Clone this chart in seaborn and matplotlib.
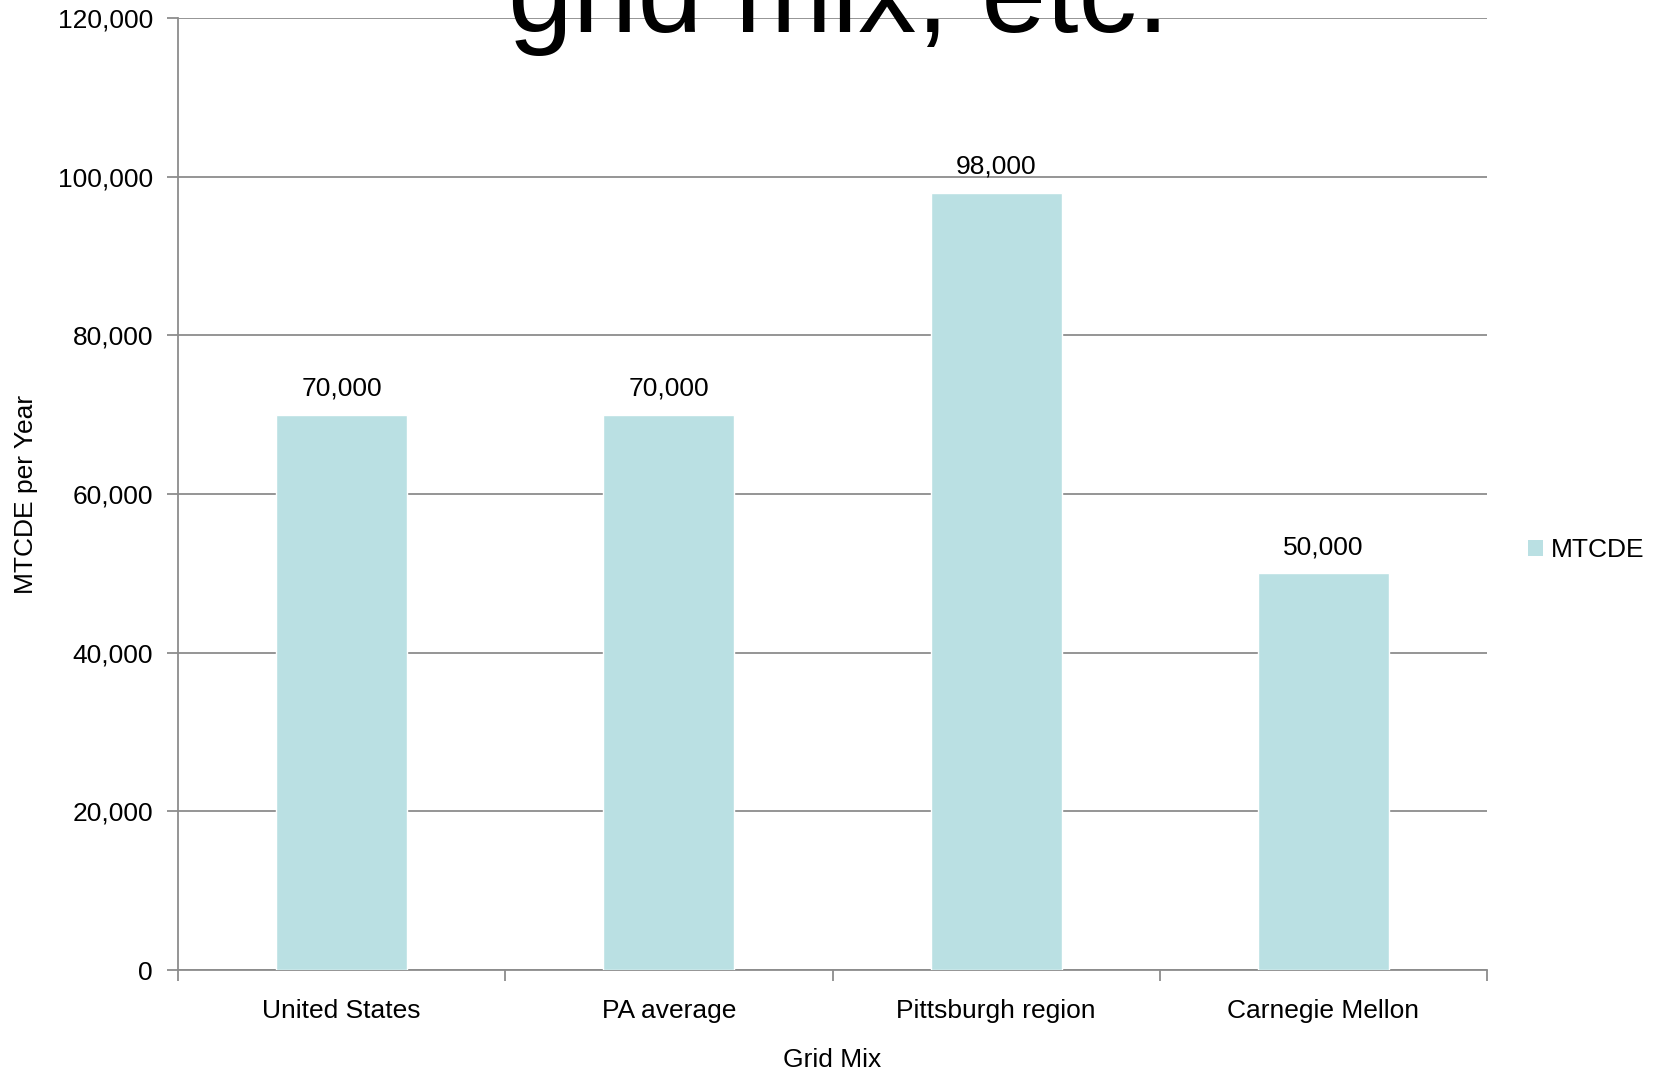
import matplotlib
matplotlib.use("Agg")
import matplotlib.pyplot as plt
import seaborn as sns
import pandas as pd
from matplotlib.ticker import FixedLocator, FuncFormatter
from matplotlib.patches import Patch

categories = ["United States", "PA average", "Pittsburgh region", "Carnegie Mellon"]
values = [70000, 70000, 98000, 50000]
bar_labels = ["70,000", "70,000", "98,000", "50,000"]
y_ticks = [0, 20000, 40000, 60000, 80000, 100000, 120000]
series_name = "MTCDE"

sns.set_theme(style="white")
plt.rcParams['font.family'] = ['Liberation Sans', 'DejaVu Sans']
plt.rcParams['text.color'] = 'black'
plt.rcParams['xtick.labelcolor'] = 'black'
plt.rcParams['ytick.labelcolor'] = 'black'
plt.rcParams['axes.labelcolor'] = 'black'

df = pd.DataFrame({"cat": categories, "val": values})

fig = plt.figure(figsize=(16.61, 10.74), dpi=100)
ax = fig.add_axes([0.1072, 0.0968, 0.8953 - 0.1072, 0.9832 - 0.0968])

bar_color = "#BAE0E3"
grid_color = "#8C8C8C"
fs = 19
sns.barplot(data=df, x="cat", y="val", color=bar_color, width=0.4, ax=ax,
            saturation=1, errorbar=None, zorder=3)

ax.set_ylim(0, 120000)
ax.set_xlim(-0.5, len(categories) - 0.5)
ax.yaxis.set_major_locator(FixedLocator(y_ticks))
ax.yaxis.set_major_formatter(FuncFormatter(lambda v, p: f"{int(v):,}"))
ax.grid(axis="y", color=grid_color, linewidth=1.3, zorder=0)
ax.set_axisbelow(True)

# x ticks at category boundaries, labels at centers
ax.set_xticks([i - 0.5 for i in range(len(categories) + 1)])
ax.set_xticklabels([])
ax.set_xticks(range(len(categories)), minor=True)
ax.set_xticklabels(categories, minor=True, fontsize=fs, color="black")
ax.tick_params(axis="x", which="major", length=8, width=1.3, color=grid_color, direction="out", bottom=True)
ax.tick_params(axis="x", which="minor", length=0, pad=21)
ax.tick_params(axis="y", which="major", length=8, width=1.3, color=grid_color, direction="out", left=True,
               labelsize=fs, pad=10, labelcolor="black")

for s in ["top", "right"]:
    ax.spines[s].set_visible(False)
for s in ["left", "bottom"]:
    ax.spines[s].set_color(grid_color)
    ax.spines[s].set_linewidth(1.3)

ax.bar_label(ax.containers[0], labels=bar_labels, padding=10, fontsize=fs, color="black")

ax.set_xlabel("Grid Mix", fontsize=fs, color="black")
ax.set_ylabel("MTCDE per Year", fontsize=fs, color="black")
ax.xaxis.set_label_coords(0.5, -0.082)
ax.yaxis.set_label_coords(-0.107, 0.5)

handle = Patch(facecolor=bar_color, edgecolor="none")
fig.legend([handle], [series_name], loc="center left", bbox_to_anchor=(0.920, 1 - 550 / 1074),
           frameon=False, fontsize=fs, handlelength=0.55, handleheight=0.55, handletextpad=0.3,
           borderaxespad=0, borderpad=0, labelcolor="black")

fig.text(0.505, 1 - 32 / 1074, "grid mix, etc.", fontsize=84, ha="center", va="baseline", color="black")

fig.savefig("out.png", dpi=100)
